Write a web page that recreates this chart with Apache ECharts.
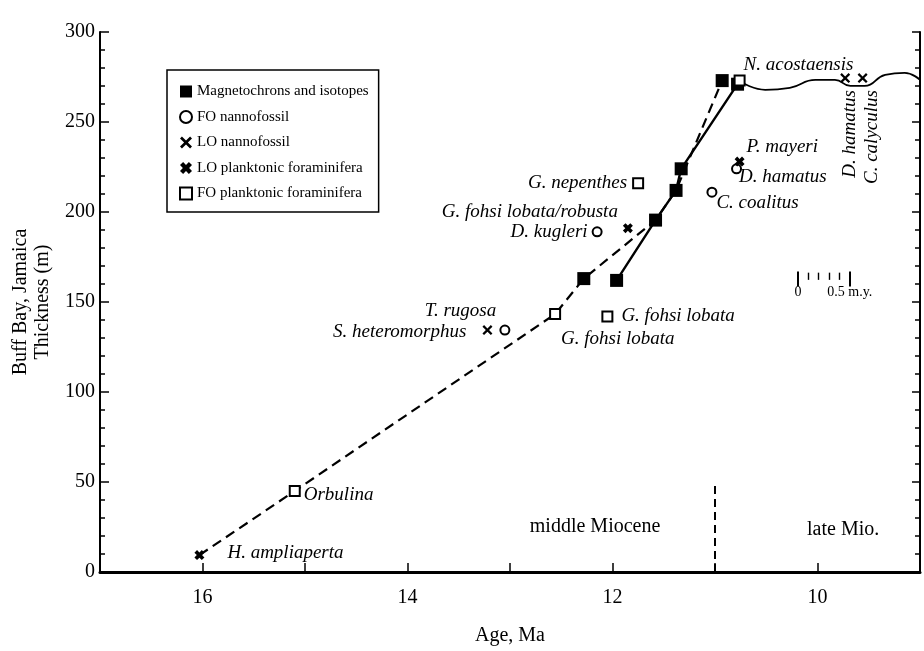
<!DOCTYPE html>
<html>
<head>
<meta charset="UTF-8">
<title>Buff Bay, Jamaica - age model</title>
<style>
html,body{margin:0;padding:0;background:#fff;}
#main{width:924px;height:651px;}
</style>
</head>
<body>
<div id="main"></div>
<script src="https://cdn.jsdelivr.net/npm/echarts@6/dist/echarts.min.js"></script>
<script>
// x = age (Ma), y = thickness (m)
var magnetoAge   = [12.28, 11.96, 11.58, 11.38, 11.33, 10.93, 10.78];
var magnetoThick = [163, 162, 195.5, 212, 224, 273, 271];

var foNannoNames = ['D. kugleri', 'S. heteromorphus', 'C. coalitus', 'D. hamatus'];
var foNannoAge   = [12.15, 13.05, 11.03, 10.79];
var foNannoThick = [189, 134.4, 211, 224];

var loNannoNames = ['T. rugosa', 'D. hamatus', 'C. calyculus'];
var loNannoAge   = [13.22, 9.73, 9.56];
var loNannoThick = [134.4, 274.4, 274.4];

var loForamNames = ['H. ampliaperta', 'G. fohsi lobata/robusta', 'P. mayeri'];
var loForamAge   = [16.03, 11.85, 10.76];
var loForamThick = [9.4, 191, 228];

var foForamNames = ['Orbulina', 'G. fohsi lobata', 'G. fohsi lobata', 'G. nepenthes', 'N. acostaensis'];
var foForamAge   = [15.10, 12.56, 12.05, 11.75, 10.76];
var foForamThick = [45, 143.3, 142, 216, 273];

// correlation lines
var solidAge    = [11.96, 11.58, 11.38, 11.33, 10.78];
var solidThick  = [162, 195.5, 212, 224, 271];
var dashedAge   = [16.03, 15.10, 12.56, 12.28, 11.58, 11.38, 10.93];
var dashedThick = [9.4, 45, 143.3, 163, 195.5, 212, 273];

// unconformity (wavy line) at top
var waveAge   = [10.73, 10.51, 10.27, 10.02, 9.83, 9.68, 9.54, 9.34, 9.15, 9.0];
var waveThick = [271.8, 267.9, 269.0, 273.4, 273.4, 270.1, 270.1, 276.2, 277.3, 273.4];

// epochs
var epochNames    = ['middle Miocene', 'late Mio.'];
var epochAge      = [12.17, 9.75];
var epochThick    = [25, 23.3];
var boundaryAge   = [11, 11];
var boundaryThick = [0, 49];

// 0.5 m.y. scale bar
var scaleOrigin = 10.19;
var scaleTicks  = [0, 0.1, 0.2, 0.3, 0.4, 0.5];
var scaleLow = 158.6, scaleHigh = 166.9, scaleLowShort = 162.3, scaleHighShort = 166.3;

var legendNames = ['Magnetochrons and isotopes', 'FO nannofossil', 'LO nannofossil',
  'LO planktonic foraminifera', 'FO planktonic foraminifera'];

// label placement (styling, kept apart from the values)
var foNannoPlace = [
  {position: 'left', distance: 4},
  {position: 'left', distance: 33, offset: [0, 2]},
  {position: 'right', offset: [-6, 11]},
  {position: 'right', offset: [-8, 8]}
];
var loNannoPlace = [
  {position: 'top', offset: [-27, 0]},
  {position: [10, 17], rotate: 90, align: 'right', verticalAlign: 'middle'},
  {position: [14, 17], rotate: 90, align: 'right', verticalAlign: 'middle'}
];
var loForamPlace = [
  {position: 'right', offset: [18, -2]},
  {position: 'left', offset: [0, -16]},
  {position: 'right', offset: [-3, -15]}
];
var foForamPlace = [
  {position: 'right', offset: [-2, 4]},
  {position: 'right', offset: [-5, 25]},
  {position: 'right', offset: [3, 0]},
  {position: 'left'},
  {position: 'right', offset: [-7, -16]}
];

var SERIF = 'Liberation Serif, DejaVu Serif, Times New Roman, serif';
var X_THIN = 'path://M0,1.6 L1.6,0 L5,3.4 L8.4,0 L10,1.6 L6.6,5 L10,8.4 L8.4,10 L5,6.6 L1.6,10 L0,8.4 L3.4,5 Z';
var X_BOLD = 'path://M0,2.6 L2.6,0 L5,2.4 L7.4,0 L10,2.6 L7.6,5 L10,7.4 L7.4,10 L5,7.6 L2.6,10 L0,7.4 L2.4,5 Z';

function pts(ages, thick) {
  return ages.map(function (a, i) { return [a, thick[i]]; });
}
function labelled(ages, thick, names, place) {
  return ages.map(function (a, i) {
    var lab = {show: true};
    for (var k in place[i]) lab[k] = place[i][k];
    return {value: [a, thick[i]], name: names[i], label: lab};
  });
}
var speciesLabel = {
  formatter: '{b}', fontFamily: SERIF, fontStyle: 'italic', fontSize: 19, color: '#000'
};

var scaleLines = scaleTicks.map(function (t, i) {
  var tall = (i === 0 || i === scaleTicks.length - 1);
  return {
    coords: [[scaleOrigin - t, tall ? scaleLow : scaleLowShort],
             [scaleOrigin - t, tall ? scaleHigh : scaleHighShort]],
    lineStyle: {width: tall ? 2 : 1.4}
  };
});

var myChart = echarts.init(document.getElementById('main'));
myChart.setOption({
  backgroundColor: '#fff',
  animation: false,
  grid: {left: 100, right: 4, top: 32, bottom: 78},
  legend: {
    data: legendNames,
    orient: 'vertical',
    left: 167, top: 70,
    padding: [14, 10, 11, 12],
    itemGap: 10.5,
    itemWidth: 12, itemHeight: 12,
    borderColor: '#000', borderWidth: 1.5,
    textStyle: {fontFamily: SERIF, fontSize: 15, color: '#000'},
    selectedMode: false
  },
  xAxis: [{
    type: 'value', min: 9, max: 17, interval: 1, inverse: true, position: 'bottom',
    name: 'Age, Ma', nameLocation: 'middle', nameGap: 54,
    nameTextStyle: {fontFamily: SERIF, fontSize: 20, color: '#000'},
    axisLine: {lineStyle: {color: '#000', width: 3}},
    axisTick: {inside: true, length: 9, lineStyle: {color: '#000', width: 1.5}},
    axisLabel: {
      formatter: function (v) { return v % 2 === 0 ? String(v) : ''; },
      fontFamily: SERIF, fontSize: 20, color: '#000', margin: 16
    },
    splitLine: {show: false}
  }, {
    type: 'value', min: 9, max: 17, inverse: true, position: 'top',
    axisLine: {show: true, lineStyle: {color: '#000', width: 2}},
    axisTick: {show: false}, axisLabel: {show: false}, splitLine: {show: false}
  }],
  yAxis: [{
    type: 'value', min: 0, max: 300, interval: 50, position: 'left',
    name: 'Buff Bay, Jamaica\nThickness (m)', nameLocation: 'middle', nameGap: 40,
    nameTextStyle: {fontFamily: SERIF, fontSize: 20, lineHeight: 22, color: '#000'},
    axisLine: {show: true, lineStyle: {color: '#000', width: 2}},
    axisTick: {inside: true, length: 9, lineStyle: {color: '#000', width: 1.5}},
    minorTick: {show: true, splitNumber: 5, length: 5, lineStyle: {color: '#000', width: 1.5}},
    axisLabel: {fontFamily: SERIF, fontSize: 20, color: '#000', margin: 5, padding: [0, 0, 12, 0]},
    splitLine: {show: false}
  }, {
    type: 'value', min: 0, max: 300, interval: 50, position: 'right',
    axisLine: {show: true, lineStyle: {color: '#000', width: 2}},
    axisTick: {inside: true, length: 8, lineStyle: {color: '#000', width: 1.5}},
    minorTick: {show: true, splitNumber: 5, length: 5, lineStyle: {color: '#000', width: 1.5}},
    axisLabel: {show: false}, splitLine: {show: false}
  }],
  series: [
    {
      name: 'dashed', type: 'line', data: pts(dashedAge, dashedThick), symbol: 'none',
      lineStyle: {color: '#000', width: 2.2, type: [10, 6]}, silent: true, z: 1
    },
    {
      name: 'solid', type: 'line', data: pts(solidAge, solidThick), symbol: 'none',
      lineStyle: {color: '#000', width: 2.4}, silent: true, z: 1
    },
    {
      name: 'unconformity', type: 'line', smooth: true, data: pts(waveAge, waveThick), symbol: 'none',
      lineStyle: {color: '#000', width: 1.8}, silent: true, z: 1
    },
    {
      name: 'boundary', type: 'line', data: pts(boundaryAge, boundaryThick), symbol: 'none',
      lineStyle: {color: '#000', width: 2, type: [8, 5]}, silent: true, z: 1
    },
    {
      name: 'scalebar', type: 'lines', coordinateSystem: 'cartesian2d', data: scaleLines,
      lineStyle: {color: '#000', opacity: 1}, silent: true, z: 1
    },
    {
      name: 'scalebar labels', type: 'scatter', symbolSize: 0, silent: true,
      itemStyle: {opacity: 1},
      data: [
        {value: [scaleOrigin, scaleLow], label: {show: true, formatter: '0', position: 'bottom', offset: [0, -6]}},
        {value: [scaleOrigin - 0.5, scaleLow], label: {show: true, formatter: '0.5 m.y.', position: 'bottom', align: 'left', offset: [-22, -6]}}
      ],
      label: {fontFamily: SERIF, fontSize: 14, color: '#000'}
    },
    {
      name: 'epochs', type: 'scatter', symbolSize: 0, silent: true,
      itemStyle: {opacity: 1},
      data: epochAge.map(function (a, i) { return {value: [a, epochThick[i]], name: epochNames[i]}; }),
      label: {show: true, position: 'inside', formatter: '{b}', fontFamily: SERIF, fontSize: 20, color: '#000'}
    },
    {
      name: legendNames[0], type: 'scatter', symbol: 'rect', symbolSize: 13,
      itemStyle: {color: '#000', opacity: 1}, data: pts(magnetoAge, magnetoThick), z: 3
    },
    {
      name: legendNames[1], type: 'scatter', symbol: 'emptyCircle', symbolSize: 9,
      itemStyle: {color: '#000', borderWidth: 2, opacity: 1}, label: speciesLabel,
      data: labelled(foNannoAge, foNannoThick, foNannoNames, foNannoPlace), z: 4
    },
    {
      name: legendNames[2], type: 'scatter', symbol: X_THIN, symbolSize: 10,
      itemStyle: {color: '#000', opacity: 1}, label: speciesLabel,
      data: labelled(loNannoAge, loNannoThick, loNannoNames, loNannoPlace), z: 4
    },
    {
      name: legendNames[3], type: 'scatter', symbol: X_BOLD, symbolSize: 10,
      itemStyle: {color: '#000', opacity: 1}, label: speciesLabel,
      data: labelled(loForamAge, loForamThick, loForamNames, loForamPlace), z: 4
    },
    {
      name: legendNames[4], type: 'scatter', symbol: 'emptyRect', symbolSize: 10,
      itemStyle: {color: '#000', borderWidth: 2, opacity: 1}, label: speciesLabel,
      data: labelled(foForamAge, foForamThick, foForamNames, foForamPlace), z: 5
    }
  ]
});
</script>
</body>
</html>
